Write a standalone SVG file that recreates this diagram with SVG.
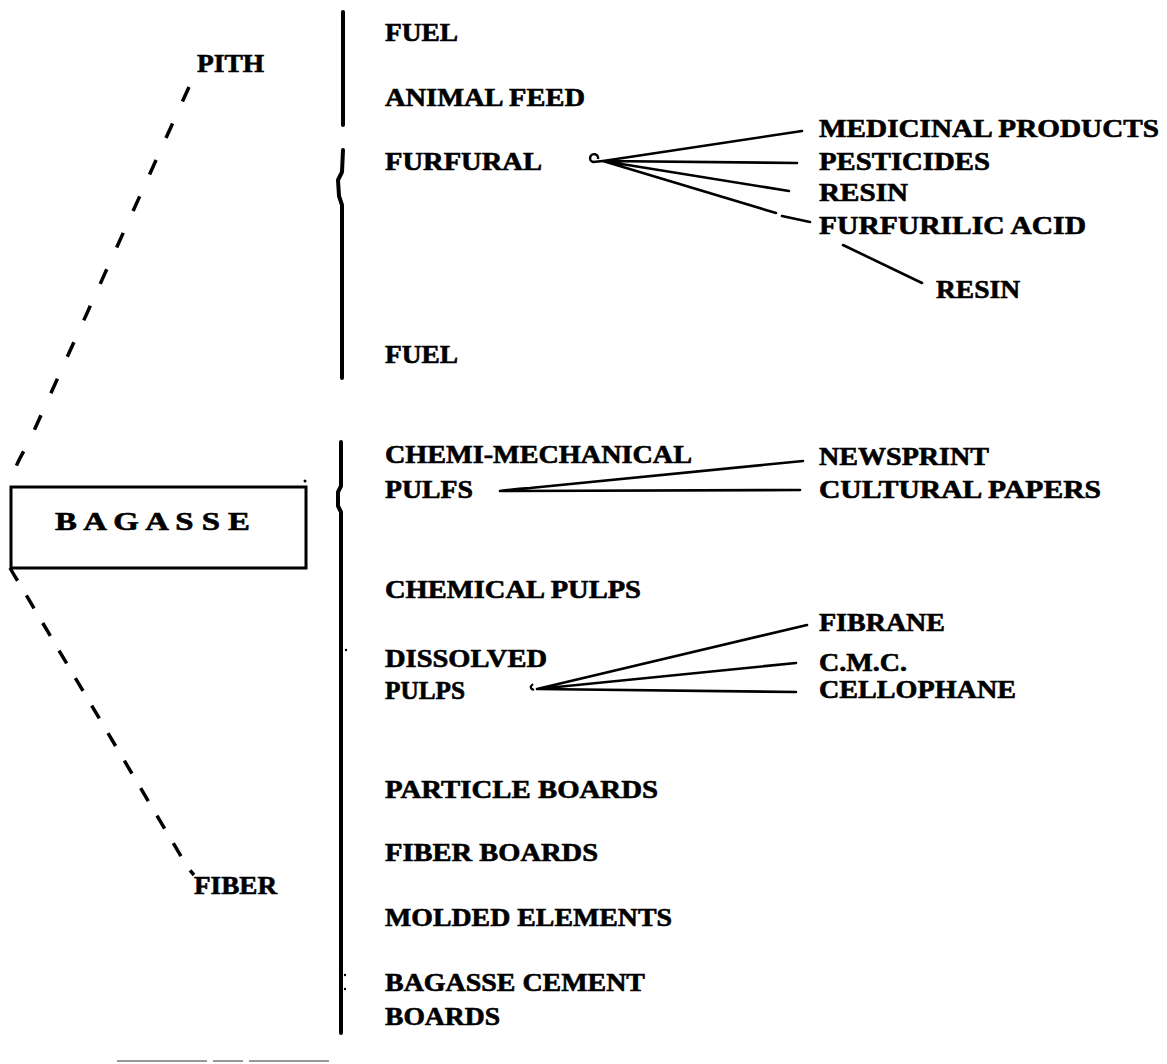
<svg xmlns="http://www.w3.org/2000/svg" width="1167" height="1064" viewBox="0 0 1167 1064">
<style>
text{font-family:"Liberation Serif","Times New Roman",serif;font-weight:bold;font-size:25px;fill:#000;stroke:#000;stroke-width:0.6}
.bar{stroke:#000;stroke-width:4;fill:none;stroke-linecap:round;stroke-linejoin:round}
.fan{stroke:#000;stroke-width:2.6;fill:none;stroke-linecap:round}
.dashU{stroke:#000;stroke-width:3.5;fill:none;stroke-dasharray:16 24}
.dashL{stroke:#000;stroke-width:3.5;fill:none;stroke-dasharray:15 17}
.box{stroke:#000;stroke-width:3;fill:none}
</style>
<rect width="1167" height="1064" fill="#fff"/>

<g id="connectors">
  <path class="dashU" d="M189,87 L28,444 Q12,470 10,487"/>
  <path class="dashL" d="M10,568 Q14,575 19,583 L188,868 L194,875"/>
  <path class="bar" d="M343,12 L343,125"/>
  <path class="bar" d="M343,150 L342,172 L338,180 L339,196 L342,205 L342,378"/>
  <path class="bar" d="M341,442 L341,486 L338,492 L338,506 L341,512 L341,1033"/>
  <circle cx="346" cy="650" r="1.2" fill="#000"/>
  <circle cx="345" cy="975" r="1.2" fill="#000"/>
  <circle cx="345" cy="989" r="1.2" fill="#000"/>
  <path class="fan" d="M603,161 L802,131 M603,161 L797,163 M603,161 L789,191 M603,161 L776,213 M782,216 L810,222"/>
  <path class="fan" d="M843,245 L922,283"/>
  <path class="fan" d="M500,491 Q515,489 530,488 L803,461 M500,491 L800,490"/>
  <path class="fan" d="M537,689 L807,625 M537,689 L796,663 M537,689 L796,692"/>
  <path d="M598,159 A4,4 0 1 0 593,162 L603,161" stroke="#000" stroke-width="2.5" fill="none"/>
  <path d="M533,684 Q528,688 534,690" stroke="#000" stroke-width="2.2" fill="none"/>
  <path d="M117,1061 L330,1061" stroke="#999" stroke-width="2" stroke-dasharray="90 6 30 6 80"/>
</g>

<g id="bagasse">
  <rect class="box" x="11" y="487" width="295" height="81"/>
  <circle cx="305" cy="481" r="1.5" fill="#000"/>
  <text x="55" y="530" font-size="30" textLength="195" lengthAdjust="spacingAndGlyphs">B A G A S S E</text>
</g>
<g id="pith"><text x="197" y="71.5" textLength="67" lengthAdjust="spacingAndGlyphs">PITH</text></g>
<g id="fiber"><text x="194" y="893.5" textLength="83" lengthAdjust="spacingAndGlyphs">FIBER</text></g>

<g id="fuel1"><text x="385" y="40.5" textLength="73" lengthAdjust="spacingAndGlyphs">FUEL</text></g>
<g id="animal-feed"><text x="385" y="105.5" textLength="200" lengthAdjust="spacingAndGlyphs">ANIMAL FEED</text></g>
<g id="furfural"><text x="385" y="169.5" textLength="157" lengthAdjust="spacingAndGlyphs">FURFURAL</text></g>
<g id="medicinal"><text x="819" y="136.5" textLength="340" lengthAdjust="spacingAndGlyphs">MEDICINAL PRODUCTS</text></g>
<g id="pesticides"><text x="819" y="169.5" textLength="171" lengthAdjust="spacingAndGlyphs">PESTICIDES</text></g>
<g id="resin1"><text x="819" y="200.5" textLength="89" lengthAdjust="spacingAndGlyphs">RESIN</text></g>
<g id="furfurilic"><text x="819" y="233.5" textLength="267" lengthAdjust="spacingAndGlyphs">FURFURILIC ACID</text></g>
<g id="resin2"><text x="936" y="297.5" textLength="84" lengthAdjust="spacingAndGlyphs">RESIN</text></g>
<g id="fuel2"><text x="385" y="362.5" textLength="73" lengthAdjust="spacingAndGlyphs">FUEL</text></g>

<g id="chemi-mech">
  <text x="385" y="462.5" textLength="307" lengthAdjust="spacingAndGlyphs">CHEMI-MECHANICAL</text>
  <text x="385" y="498" textLength="88" lengthAdjust="spacingAndGlyphs">PULFS</text>
</g>
<g id="newsprint"><text x="819" y="464.5" textLength="170" lengthAdjust="spacingAndGlyphs">NEWSPRINT</text></g>
<g id="cultural"><text x="819" y="497.5" textLength="282" lengthAdjust="spacingAndGlyphs">CULTURAL PAPERS</text></g>
<g id="chemical-pulps"><text x="385" y="597.5" textLength="256" lengthAdjust="spacingAndGlyphs">CHEMICAL PULPS</text></g>
<g id="dissolved">
  <text x="385" y="666.5" textLength="162" lengthAdjust="spacingAndGlyphs">DISSOLVED</text>
  <text x="385" y="698.5" textLength="80" lengthAdjust="spacingAndGlyphs">PULPS</text>
</g>
<g id="fibrane"><text x="819" y="630.5" textLength="126" lengthAdjust="spacingAndGlyphs">FIBRANE</text></g>
<g id="cmc"><text x="819" y="670.5" textLength="88" lengthAdjust="spacingAndGlyphs">C.M.C.</text></g>
<g id="cellophane"><text x="819" y="697.5" textLength="197" lengthAdjust="spacingAndGlyphs">CELLOPHANE</text></g>
<g id="particle"><text x="385" y="797.5" textLength="273" lengthAdjust="spacingAndGlyphs">PARTICLE BOARDS</text></g>
<g id="fiber-boards"><text x="385" y="860.5" textLength="213" lengthAdjust="spacingAndGlyphs">FIBER BOARDS</text></g>
<g id="molded"><text x="385" y="925.5" textLength="287" lengthAdjust="spacingAndGlyphs">MOLDED ELEMENTS</text></g>
<g id="cement">
  <text x="385" y="990.5" textLength="260" lengthAdjust="spacingAndGlyphs">BAGASSE CEMENT</text>
  <text x="385" y="1024.5" textLength="115" lengthAdjust="spacingAndGlyphs">BOARDS</text>
</g>
</svg>
